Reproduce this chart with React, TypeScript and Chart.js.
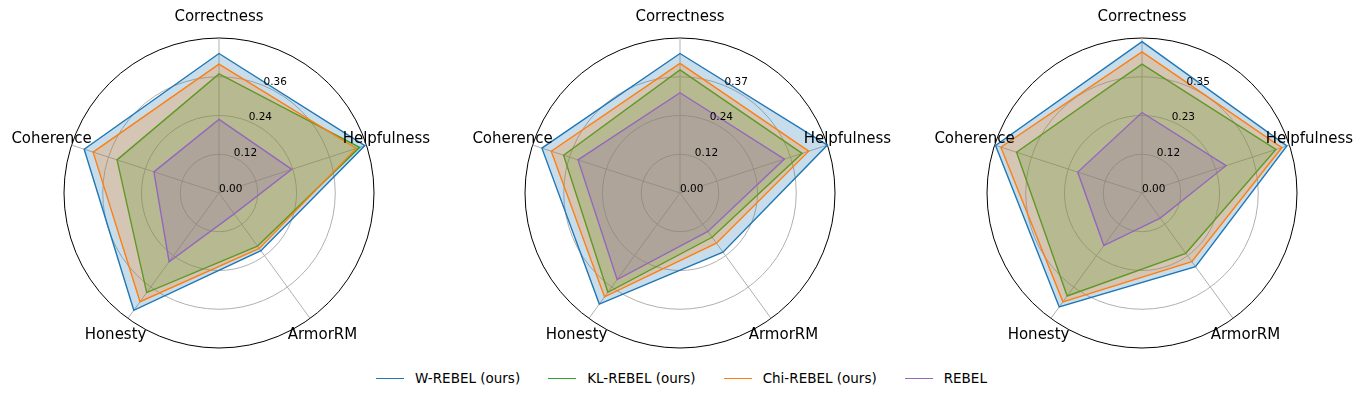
import React, { useEffect, useRef } from 'react';
import { Chart, registerables } from 'chart.js';

Chart.register(...registerables);

const categories = ['Correctness', 'Helpfulness', 'ArmorRM', 'Honesty', 'Coherence'];

const seriesNames = ['W-REBEL (ours)', 'KL-REBEL (ours)', 'Chi-REBEL (ours)', 'REBEL'];
const seriesColors = ['#1f77b4', '#2ca02c', '#ff7f0e', '#9467bd'];
const seriesFills = [
  'rgba(31,119,180,0.25)',
  'rgba(44,160,44,0.25)',
  'rgba(255,127,14,0.25)',
  'rgba(148,103,189,0.25)',
];

// Panel 1
const panel1W = [0.432, 0.475, 0.221, 0.449, 0.439];
const panel1KL = [0.369, 0.458, 0.203, 0.381, 0.332];
const panel1Chi = [0.399, 0.447, 0.212, 0.416, 0.41];
const panel1Rebel = [0.228, 0.237, 0.08, 0.263, 0.212];

// Panel 2
const panel2W = [0.441, 0.49, 0.231, 0.434, 0.459];
const panel2KL = [0.389, 0.406, 0.173, 0.388, 0.387];
const panel2Chi = [0.41, 0.428, 0.196, 0.406, 0.428];
const panel2Rebel = [0.317, 0.347, 0.15, 0.338, 0.339];

// Panel 3
const panel3W = [0.459, 0.462, 0.276, 0.427, 0.467];
const panel3KL = [0.391, 0.427, 0.226, 0.386, 0.4];
const panel3Chi = [0.428, 0.446, 0.257, 0.408, 0.45];
const panel3Rebel = [0.244, 0.268, 0.094, 0.197, 0.205];

// Radial ticks (last value = outer circle, unlabeled)
const panel1Ticks = [0, 0.12, 0.24, 0.36, 0.48];
const panel2Ticks = [0, 0.1225, 0.245, 0.3675, 0.49];
const panel3Ticks = [0, 0.1175, 0.235, 0.3525, 0.47];

const panel1TickLabels = ['0.00', '0.12', '0.24', '0.36'];
const panel2TickLabels = ['0.00', '0.12', '0.24', '0.37'];
const panel3TickLabels = ['0.00', '0.12', '0.23', '0.35'];

const panels = [
  { series: [panel1W, panel1KL, panel1Chi, panel1Rebel], ticks: panel1Ticks, tickLabels: panel1TickLabels, cx: 219 },
  { series: [panel2W, panel2KL, panel2Chi, panel2Rebel], ticks: panel2Ticks, tickLabels: panel2TickLabels, cx: 680 },
  { series: [panel3W, panel3KL, panel3Chi, panel3Rebel], ticks: panel3Ticks, tickLabels: panel3TickLabels, cx: 1142 },
];

const FONT = '"DejaVu Sans", "Liberation Sans", sans-serif';
const CANVAS_W = 460;
const CANVAS_H = 360;
const RADIUS = 155;
const CENTER_Y = 193;

function RadarPanel({ panel }: { panel: any }) {
  const ref = useRef<HTMLCanvasElement | null>(null);

  useEffect(() => {
    if (!ref.current) return;
    const tickVals: number[] = panel.ticks;
    const tickLabels: string[] = panel.tickLabels;
    const labelsPlugin = {
      id: 'customLabels',
      afterDraw(chart: any) {
        const scale = chart.scales.r;
        const ctx = chart.ctx;
        ctx.save();
        ctx.fillStyle = '#000';
        // radial tick labels along 22.5deg
        ctx.font = `10.5px ${FONT}`;
        ctx.textAlign = 'left';
        ctx.textBaseline = 'alphabetic';
        const a = (22.5 * Math.PI) / 180;
        tickLabels.forEach((lab, i) => {
          const d = scale.getDistanceFromCenterForValue(tickVals[i]);
          ctx.fillText(lab, scale.xCenter + d * Math.sin(a), scale.yCenter - d * Math.cos(a) - 1);
        });
        // category labels
        ctx.font = `15px ${FONT}`;
        ctx.textAlign = 'center';
        ctx.textBaseline = 'middle';
        categories.forEach((c, i) => {
          const p = scale.getPointPosition(i, scale.drawingArea + 21);
          ctx.fillText(c, p.x, p.y);
        });
        ctx.restore();
      },
    };

    const padLeft = CANVAS_W / 2 - RADIUS;
    const chart = new Chart(ref.current, {
      type: 'radar',
      data: {
        labels: categories,
        datasets: panel.series.map((vals: number[], i: number) => ({
          label: seriesNames[i],
          data: vals,
          borderColor: seriesColors[i],
          backgroundColor: seriesFills[i],
          borderWidth: 1.4,
          fill: true,
          pointRadius: 0,
          pointHoverRadius: 0,
          tension: 0,
          order: 4 - i,
        })),
      },
      options: {
        responsive: false,
        animation: false,
        layout: {
          padding: {
            left: padLeft,
            right: CANVAS_W - padLeft - 2 * RADIUS,
            top: CENTER_Y - RADIUS,
            bottom: CANVAS_H - (CENTER_Y - RADIUS) - 2 * RADIUS,
          },
        },
        plugins: {
          legend: { display: false },
          tooltip: { enabled: false },
        },
        scales: {
          r: {
            min: 0,
            max: tickVals[tickVals.length - 1],
            startAngle: 0,
            ticks: { display: false },
            pointLabels: { display: false },
            grid: {
              circular: true,
              color: (c: any) => (c.index === tickVals.length - 1 ? '#000000' : '#b0b0b0'),
              lineWidth: 1,
            },
            angleLines: { color: '#b0b0b0', lineWidth: 1 },
            afterBuildTicks: (scale: any) => {
              scale.ticks = tickVals.map((v) => ({ value: v }));
            },
          } as any,
        },
      },
      plugins: [labelsPlugin],
    } as any);

    return () => chart.destroy();
  }, [panel]);

  return (
    <canvas
      ref={ref}
      width={CANVAS_W}
      height={CANVAS_H}
      style={{
        position: 'absolute',
        left: panel.cx - CANVAS_W / 2,
        top: 0,
        width: CANVAS_W,
        height: CANVAS_H,
        display: 'block',
      }}
    />
  );
}

export default function App() {
  return (
    <div
      style={{
        position: 'fixed',
        left: 0,
        top: 0,
        width: 1363,
        height: 398,
        overflow: 'hidden',
        background: '#ffffff',
      }}
    >
      {panels.map((p, i) => (
        <RadarPanel key={i} panel={p} />
      ))}
      <div
        style={{
          position: 'absolute',
          left: 0,
          top: 369,
          width: 1363,
          height: 18,
          display: 'flex',
          justifyContent: 'center',
          alignItems: 'center',
          fontFamily: FONT,
          fontSize: 13.5,
          color: '#000',
          gap: 28,
        }}
      >
        {seriesNames.map((name, i) => (
          <div key={name} style={{ display: 'flex', alignItems: 'center' }}>
            <span
              style={{
                display: 'inline-block',
                width: 28,
                height: 0,
                borderTop: `1.5px solid ${seriesColors[i]}`,
                marginRight: 11,
              }}
            />
            <span style={{ whiteSpace: 'nowrap' }}>{name}</span>
          </div>
        ))}
      </div>
    </div>
  );
}
